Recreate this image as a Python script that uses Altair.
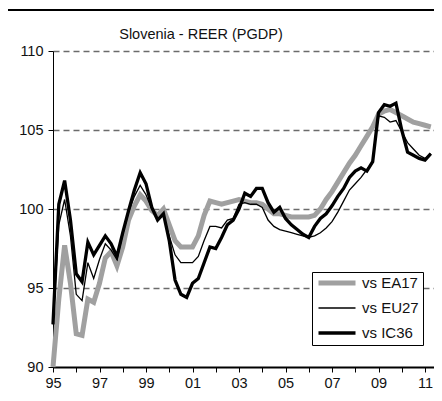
import altair as alt
import pandas as pd

# quarterly observations 1995Q1 .. 2011Q2
quarters = [1995 + i * 0.25 for i in range(66)]

ea17 = [90.0, 94.3, 97.7, 95.3,
        92.1, 92.0, 94.3, 94.1,
        95.3, 96.9, 97.3, 96.4,
        97.6, 99.3, 100.2, 100.9,
        100.5, 99.9, 99.6, 100.0,
        99.0, 98.0, 97.6, 97.6,
        97.6, 98.3, 99.6, 100.5,
        100.4, 100.3, 100.4, 100.5,
        100.6, 100.5, 100.4, 100.4,
        100.3, 100.0, 99.7, 99.7,
        99.6, 99.5, 99.5, 99.5,
        99.5, 99.6, 100.0, 100.6,
        101.1, 101.7, 102.3, 102.9,
        103.4, 104.0, 104.6, 105.2,
        106.0, 106.2, 106.3, 106.1,
        105.9, 105.7, 105.5, 105.4,
        105.3, 105.2]

eu27 = [92.7, 99.0, 100.6, 98.3,
        94.6, 94.2, 96.6, 95.6,
        96.8, 97.8, 97.4, 96.8,
        98.4, 99.8, 100.8, 101.5,
        100.9, 100.0, 99.3, 99.6,
        98.3, 97.1, 96.6, 96.6,
        96.6, 97.0, 98.0, 98.9,
        98.9, 98.8, 99.3, 99.4,
        100.3, 100.4, 100.3, 100.3,
        100.1, 99.3, 98.9, 98.7,
        98.6, 98.5, 98.4, 98.3,
        98.2, 98.3, 98.5, 98.8,
        99.2, 99.8, 100.5, 101.2,
        101.6, 102.0, 102.5, 103.0,
        105.9, 105.8, 105.5, 105.6,
        104.9, 104.2, 103.8, 103.4,
        103.2, 103.5]

ic36 = [92.7, 100.3, 101.8, 99.3,
        95.9, 95.4, 97.9, 97.1,
        97.7, 98.3, 97.8, 97.0,
        98.5, 99.9, 101.2, 102.3,
        101.6, 100.1, 99.3, 99.7,
        98.0, 95.5, 94.6, 94.4,
        95.3, 95.6, 96.6, 97.6,
        97.5, 98.2, 99.0, 99.3,
        100.0, 101.0, 100.8, 101.3,
        101.3, 100.4, 99.8, 100.1,
        99.4, 99.0, 98.7, 98.4,
        98.2, 98.9, 99.4, 99.7,
        100.2, 100.8, 101.3, 102.0,
        102.4, 102.6, 102.4, 103.0,
        106.1, 106.6, 106.5, 106.7,
        105.0, 103.6, 103.4, 103.2,
        103.1, 103.5]

series_names = ["vs EA17", "vs EU27", "vs IC36"]
series_colors = ["#a0a0a0", "#000000", "#000000"]
series_widths = [5, 1.3, 3.3]

year_ticks = list(range(1995, 2012))
y_ticks = [90, 95, 100, 105, 110]
title_text = "Slovenia - REER (PGDP)"

df = pd.DataFrame({
    "t": quarters * 3,
    "value": ea17 + eu27 + ic36,
    "series": [series_names[0]] * 66 + [series_names[1]] * 66 + [series_names[2]] * 66,
})

FONT = "Liberation Sans"

legend_opts = dict(title=None, orient="none", legendX=259, legendY=221,
                   symbolType="stroke", symbolSize=1369,
                   labelFontSize=15, labelFont=FONT, labelColor="#111",
                   labelOffset=4, padding=4, rowPadding=10, clipHeight=14,
                   strokeColor="black", fillColor="white", labelLimit=200)

lines = alt.Chart(df).mark_line().encode(
    x=alt.X("t:Q",
            scale=alt.Scale(domain=[1995, 2011.387], nice=False, zero=False),
            axis=alt.Axis(values=year_ticks,
                          labelExpr="datum.value % 2 == 1 ? substring(toString(datum.value), 2, 4) : ''",
                          title=None, grid=False, domainWidth=2, domainColor="black",
                          tickColor="black", tickSize=5, tickWidth=1,
                          labelPadding=4, labelFontSize=14.5, labelFont=FONT,
                          labelColor="#111", labelFlush=False, labelOverlap=False)),
    y=alt.Y("value:Q",
            scale=alt.Scale(domain=[90, 110], nice=False, zero=False),
            axis=alt.Axis(values=y_ticks, title=None, grid=True,
                          gridDash=[6, 4], gridWidth=1.3,
                          gridColor={"condition": {"test": "datum.value == 90", "value": "transparent"},
                                     "value": "#6b6b6b"},
                          domainColor="black", domainWidth=1,
                          tickColor="black", tickSize=5, labelPadding=5,
                          labelFontSize=14.5, labelFont=FONT, labelColor="#111")),
    color=alt.Color("series:N",
                    scale=alt.Scale(domain=series_names, range=series_colors),
                    legend=alt.Legend(**legend_opts)),
    strokeWidth=alt.StrokeWidth("series:N",
                                scale=alt.Scale(type="ordinal", domain=series_names, range=series_widths),
                                legend=alt.Legend(**legend_opts)),
)

# top frame line of the exhibit box
frame_main = alt.Chart(alt.Data(values=[{"a": 1}])).mark_rule(
    color="black", strokeWidth=2
).encode(y=alt.value(-41))

frame_left = alt.Chart(alt.Data(values=[{"a": 1}])).mark_text(
    text="", color="black"
).encode(x=alt.value(0), y=alt.value(-41))

frame_left_seg = alt.Chart(alt.Data(values=[{"a": 1}])).mark_rule(
    color="black", strokeWidth=2
).encode(x=alt.value(-45), x2=alt.value(1), y=alt.value(-41), y2=alt.value(-41))

title = alt.Chart(alt.Data(values=[{"a": 1}])).mark_text(
    text=title_text, font=FONT, fontSize=14.5, color="#111",
    align="center", baseline="middle"
).encode(x=alt.value(148), y=alt.value(-16))

chart = alt.layer(lines, frame_main, frame_left_seg, title).properties(
    width=381, height=316,
    autosize=alt.AutoSizeParams(type="none"),
    padding={"left": 45, "top": 43, "right": 0, "bottom": 22},
).configure_view(stroke=None)

chart.save("out.html", embed_options={"renderer": "svg", "actions": False})
